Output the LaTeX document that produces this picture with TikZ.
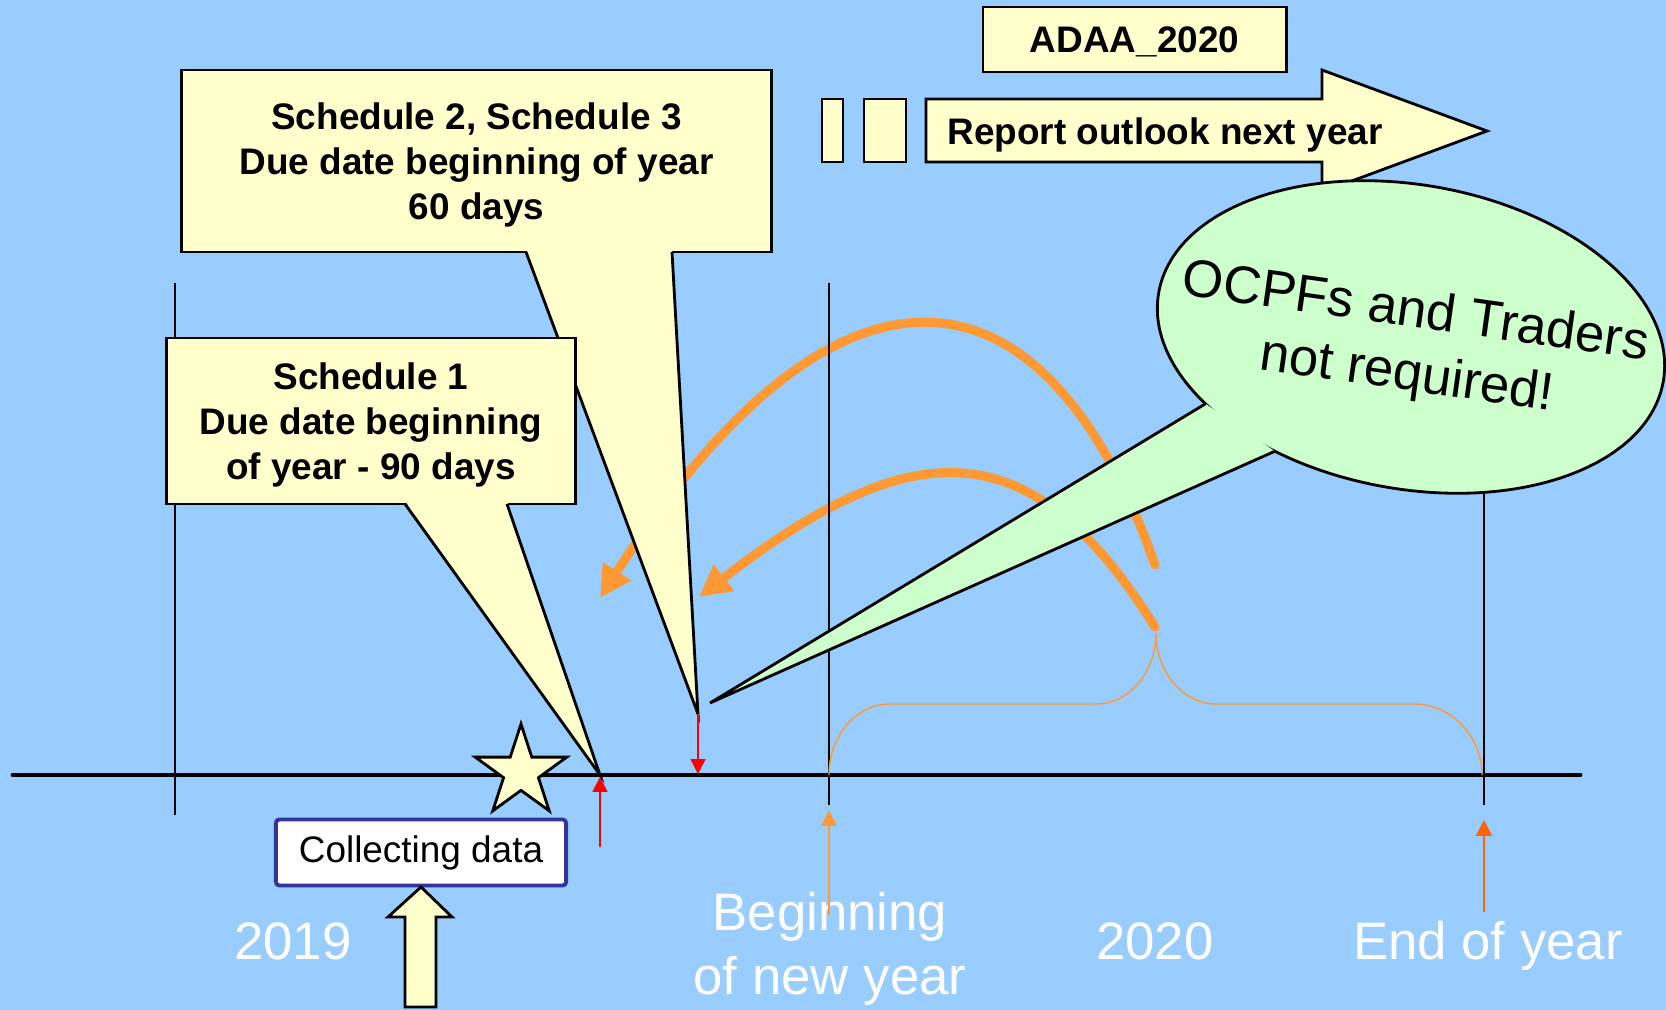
\documentclass[tikz,border=0pt]{standalone}
\usepackage{fontspec}
\setmainfont{Liberation Sans}
\usetikzlibrary{arrows.meta, shapes.geometric}
\definecolor{sky}{HTML}{99CCFF}
\definecolor{paleyellow}{HTML}{FFFFCC}
\definecolor{palegreen}{HTML}{CCFFCC}
\definecolor{arcorange}{HTML}{FF9933}
\definecolor{deeporange}{HTML}{FF6600}
\definecolor{frameblue}{HTML}{333399}
\newcommand{\boxfont}{\fontsize{10.5}{12.7}\selectfont\bfseries}
\newcommand{\bigfont}{\fontsize{15}{18}\selectfont}

\begin{document}
\begin{tikzpicture}[x=0.01cm, y=-0.01cm,
    note/.style={draw, fill=paleyellow, line width=0.8pt, align=center, inner sep=0pt, text depth=0pt, font=\boxfont},
    yellowshape/.style={draw, fill=paleyellow, line width=0.8pt},
    yearline/.style={draw=black, line width=0.5pt},
    year/.style={text=white, font=\bigfont, align=center, inner sep=0pt},
    backarrow/.style={draw=arcorange, line width=2.6pt, line cap=round, -{Triangle[length=9pt, width=9pt]}},
    duearrow/.style={red, line width=0.5pt, -{Triangle[length=4.2pt, width=4.2pt]}}]
    \fill[sky] (0,0) rectangle (1666,1010);
    \useasboundingbox (0,0) rectangle (1666,1010);

    \coordinate (up0) at (1155,565);
    \coordinate (up1) at (600,598);
    \coordinate (lo0) at (1155,627);
    \coordinate (lo1) at (699,597);
    \draw[backarrow] (up0) .. controls (1045,250) and (837,230) .. (up1);
    \draw[backarrow] (lo0) .. controls (1032,430) and (915,430) .. (lo1);

    \draw[yearline] (175,283) -- (175,815);
    \draw[yearline] (829,283) -- (829,805);
    \draw[yearline] (1484,283) -- (1484,805);

    \coordinate (t0) at (13,775);
    \coordinate (t1) at (1580,775);
    \draw[line width=1.4pt, line cap=round] (t0) -- (t1);

    \coordinate (yrstart) at (829,775);
    \coordinate (yrmid) at (1156,633);
    \coordinate (yrend) at (1482,775);
    \draw[arcorange, line width=0.4pt] (yrstart) .. controls (829,736) and (856,704) .. (890,704)
        -- (1097,704) .. controls (1129,704) and (1156,672) .. (yrmid)
        .. controls (1156,672) and (1183,704) .. (1216,704)
        -- (1414,704) .. controls (1451,704) and (1482,736) .. (yrend);

    \node[note, minimum width=5.89cm, minimum height=1.82cm] at (476.5,161) (sched2) {Schedule 2, Schedule 3\\Due date beginning of year\\60 days};
    \coordinate (tip2) at (698,714);
    \fill[paleyellow] (526,249) -- (tip2) -- (672,249) -- cycle;
    \draw[line width=0.8pt] (526,252) -- (tip2) -- (672,252);

    \node[note, minimum width=4.08cm, minimum height=1.66cm] at (371,421) (sched1) {Schedule 1\\Due date beginning\\of year - 90 days};
    \coordinate (tip1) at (600,775);
    \fill[paleyellow] (405,501) -- (tip1) -- (507,501) -- cycle;
    \draw[line width=0.8pt] (405,504) -- (tip1) -- (507,504);

    \draw[yellowshape] (926,99) -- (1322,99) -- (1322,70) -- (1487,131) -- (1322,192) -- (1322,162) -- (926,162) -- cycle;
    \draw[yellowshape] (822,99) rectangle (843,162);
    \draw[yellowshape] (864,99) rectangle (906,162);
    \node[font=\boxfont, text depth=0pt] at (1165,131) (outlook) {Report outlook next year};
    \node[note, minimum width=3.03cm, minimum height=0.65cm] at (1134.5,39.5) (adaa) {ADAA\_2020};

    \node[ellipse, draw, fill=palegreen, line width=0.8pt, minimum width=5.12cm, minimum height=3.04cm, inner sep=0pt, outer sep=0pt, rotate=-10] at (1411,337) (ocpf) {};
    \coordinate (tip3) at (710,703);
    \fill[palegreen] (ocpf.208) -- (tip3) -- (ocpf.230) -- cycle;
    \draw[line width=0.8pt] (ocpf.208) -- (tip3) -- (ocpf.230);
    \node[rotate=-8, font=\bigfont, align=center] at (1411,345) (ocpftext) {OCPFs and Traders\\not required!};

    \node[star, star points=5, star point ratio=2.618, minimum size=0.96cm, inner sep=0pt, draw, fill=paleyellow, line width=0.8pt] at (521,772) (star) {};

    \node[draw=frameblue, fill=white, line width=1.1pt, rounded corners=1pt, minimum width=2.9cm, minimum height=0.66cm, inner sep=0pt, font=\fontsize{10.5}{12}\selectfont] at (421,852.5) (collect) {Collecting data};
    \draw[yellowshape] (405,1007) -- (405,917) -- (388,917) -- (421,887) -- (452,917) -- (436,917) -- (436,1007) -- cycle;

    \coordinate (s1foot) at (600,847);
    \coordinate (s1mark) at (600,777);
    \coordinate (s2mark) at (698,774);
    \draw[duearrow] (s1foot) -- (s1mark);
    \draw[duearrow] (tip2) -- (s2mark);

    \node[year, anchor=base] at (293,960) (y2019) {2019};
    \node[year, anchor=base] at (1155,960) (y2020) {2020};
    \node[year, anchor=base] at (1488,960) (yend) {End of year};
    \node[year] at (830,949) (ynew) {Beginning\\of new year};

    \coordinate (newfoot) at (829,915);
    \coordinate (newmark) at (829,810);
    \coordinate (endfoot) at (1484,912);
    \coordinate (endmark) at (1484,820);
    \draw[arcorange, line width=0.5pt, -{Triangle[length=4.5pt, width=4.3pt]}] (newfoot) -- (newmark);
    \draw[deeporange, line width=0.8pt, -{Triangle[length=4.5pt, width=4.5pt]}] (endfoot) -- (endmark);
\end{tikzpicture}
\end{document}
